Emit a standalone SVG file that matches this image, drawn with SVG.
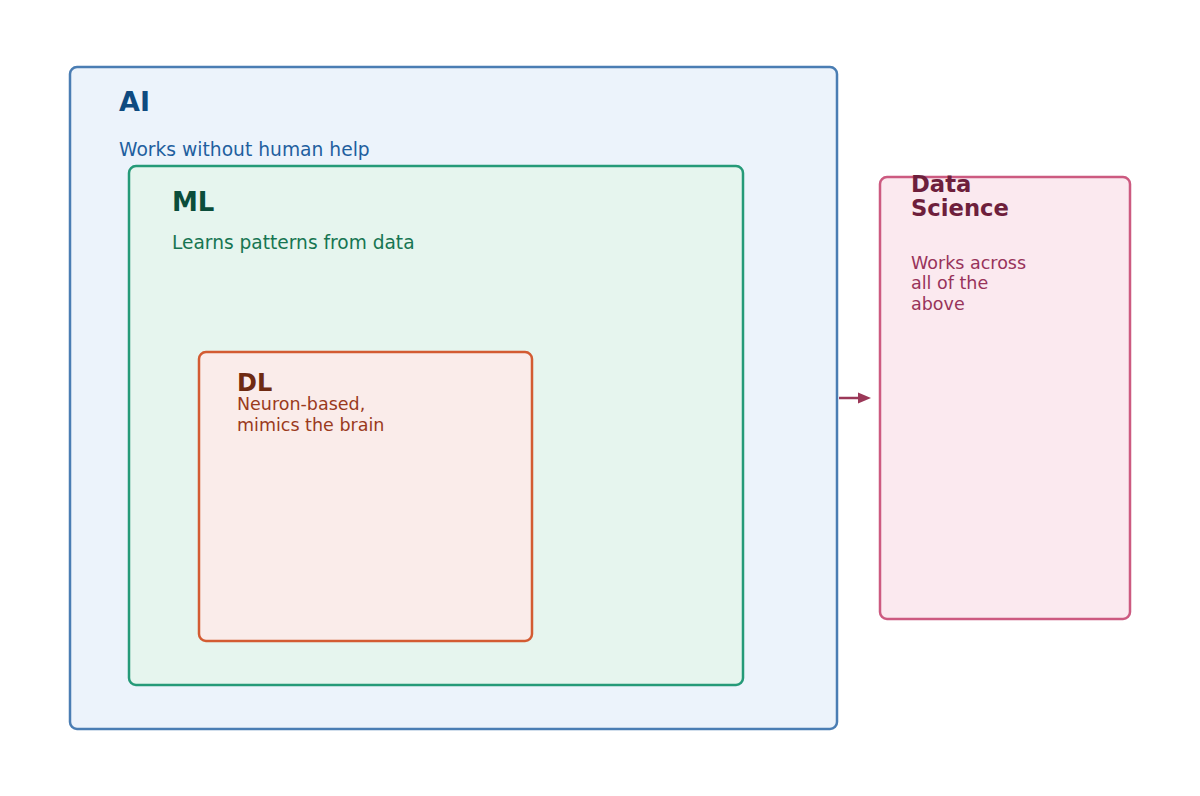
<svg xmlns="http://www.w3.org/2000/svg" width="1200" height="796" viewBox="0 0 1200 796">
  <style>
    .box { stroke-width: 2.5; }
    .title { font-family: "DejaVu Sans", "Liberation Sans", sans-serif; font-weight: bold; }
    .desc { font-family: "DejaVu Sans", "Liberation Sans", sans-serif; }
  </style>
  <rect width="1200" height="796" fill="#ffffff"/>

  <g id="ai">
    <rect class="box" x="70" y="67" width="767" height="662" rx="7" fill="#ecf3fb" stroke="#4a7db3"/>
    <text class="title" x="119" y="111" font-size="27" fill="#0e4a80">AI</text>
    <text class="desc" x="119" y="156" font-size="18.7" fill="#1f5f9f">Works without human help</text>
  </g>

  <g id="ml">
    <rect class="box" x="129" y="166" width="614" height="519" rx="7" fill="#e6f5ee" stroke="#259a78"/>
    <text class="title" x="172" y="211" font-size="26" fill="#0b4d3a">ML</text>
    <text class="desc" x="172" y="249" font-size="18.6" fill="#177552">Learns patterns from data</text>
  </g>

  <g id="dl">
    <rect class="box" x="199" y="352" width="333" height="289" rx="7" fill="#faecea" stroke="#d35b32"/>
    <text class="title" x="237" y="391" font-size="24" fill="#6e2a12">DL</text>
    <text class="desc" x="237" y="410" font-size="17.5" fill="#9a3a1c">Neuron-based,</text>
    <text class="desc" x="237" y="431" font-size="17.5" fill="#9a3a1c">mimics the brain</text>
  </g>

  <g id="data-science">
    <rect class="box" x="880" y="177" width="250" height="442" rx="7" fill="#fbe9ef" stroke="#cc5a80"/>
    <text class="title" x="911" y="191.5" font-size="22.7" fill="#6e1f3c">Data</text>
    <text class="title" x="911" y="216" font-size="22.7" fill="#6e1f3c">Science</text>
    <text class="desc" x="911" y="269" font-size="17.5" fill="#98335a">Works across</text>
    <text class="desc" x="911" y="289" font-size="17.5" fill="#98335a">all of the</text>
    <text class="desc" x="911" y="309.5" font-size="17.5" fill="#98335a">above</text>
  </g>

  <g id="connectors">
    <line x1="839" y1="398" x2="860" y2="398" stroke="#9b3858" stroke-width="2.5"/>
    <path d="M858,392.5 L871,398 L858,403.5 z" fill="#9b3858"/>
  </g>
</svg>
